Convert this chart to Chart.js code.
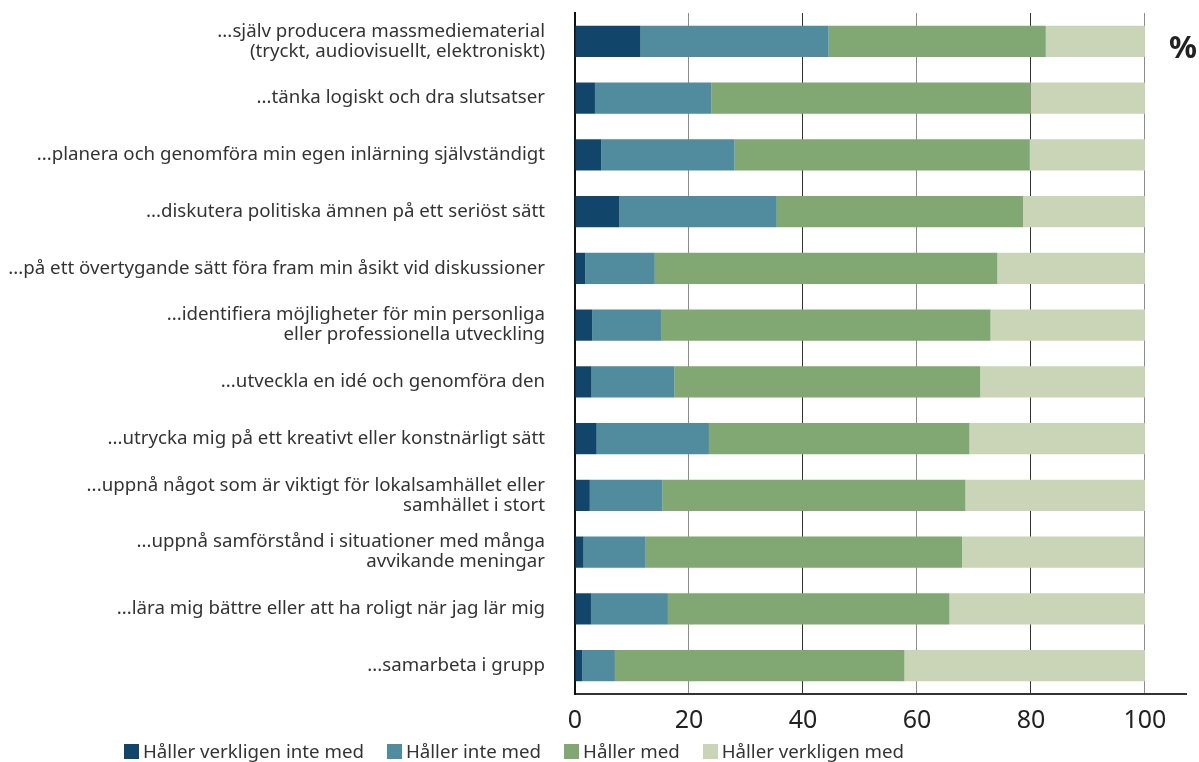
<!DOCTYPE html>
<html>
<head>
<meta charset="utf-8">
<script src="https://cdn.jsdelivr.net/npm/chart.js@4/dist/chart.umd.min.js"></script>
<style>
  body { margin: 0; background: #fff; font-family: "Noto Sans", sans-serif; }
  #wrap { position: relative; width: 1199px; height: 762px; }
  #pct { position: absolute; left: 1169px; top: 26px; font-size: 31px; font-weight: bold; color: #222; line-height: 40px; }
  #legend { position: absolute; left: 124px; top: 739px; display: flex; font-size: 18.7px; color: #333; line-height: 24px; }
  #legend .item { display: flex; align-items: center; margin-right: 23px; }
  #legend .box { width: 15px; height: 15px; margin-right: 4px; }
</style>
</head>
<body>
<div id="wrap">
  <canvas id="chart" width="1199" height="762"></canvas>
  <div id="pct">%</div>
  <div id="legend"></div>
</div>
<script>
const categories = [
    ['...själv producera massmediematerial', '(tryckt, audiovisuellt, elektroniskt)'],
    '...tänka logiskt och dra slutsatser',
    '...planera och genomföra min egen inlärning självständigt',
    '...diskutera politiska ämnen på ett seriöst sätt',
    '...på ett övertygande sätt föra fram min åsikt vid diskussioner',
    ['...identifiera möjligheter för min personliga', 'eller professionella utveckling'],
    '...utveckla en idé och genomföra den',
    '...utrycka mig på ett kreativt eller konstnärligt sätt',
    ['...uppnå något som är viktigt för lokalsamhället eller', 'samhället i stort'],
    ['...uppnå samförstånd i situationer med många', 'avvikande meningar'],
    '...lära mig bättre eller att ha roligt när jag lär mig',
    '...samarbeta i grupp'
];

const seriesNames = ['Håller verkligen inte med', 'Håller inte med', 'Håller med', 'Håller verkligen med'];
const seriesColors = ['#11466a', '#508b9e', '#81a773', '#c9d5b6'];

const strongDisagree = [11.5, 3.5, 4.6, 7.8, 1.8, 3.0, 2.9, 3.8, 2.6, 1.5, 2.8, 1.3];
const disagree       = [33.0, 20.4, 23.4, 27.6, 12.2, 12.1, 14.5, 19.7, 12.7, 10.9, 13.5, 5.7];
const agree          = [38.1, 56.0, 51.8, 43.2, 60.1, 57.8, 53.7, 45.7, 53.2, 55.5, 49.4, 50.8];
const strongAgree    = [17.4, 20.1, 20.2, 21.4, 25.9, 27.1, 28.9, 30.8, 31.5, 32.0, 34.3, 42.2];

const xTicks = [0, 20, 40, 60, 80, 100];

const allSeries = [strongDisagree, disagree, agree, strongAgree];

// html legend, placed like the original
const legendEl = document.getElementById('legend');
seriesNames.forEach((name, i) => {
    const item = document.createElement('div');
    item.className = 'item';
    item.innerHTML = `<span class="box" style="background:${seriesColors[i]}"></span><span>${name}</span>`;
    legendEl.appendChild(item);
});

const ctx = document.getElementById('chart').getContext('2d');
const chart = new Chart(ctx, {
    type: 'bar',
    data: {
        labels: categories,
        datasets: allSeries.map((vals, i) => ({
            label: seriesNames[i],
            data: vals,
            backgroundColor: seriesColors[i],
            borderWidth: 0,
            barPercentage: 0.55,
            categoryPercentage: 1
        }))
    },
    options: {
        indexAxis: 'y',
        responsive: false,
        animation: false,
        layout: { padding: { top: 13, right: 13, left: 0, bottom: 0 } },
        plugins: {
            legend: { display: false },
            tooltip: { enabled: false }
        },
        scales: {
            x: {
                stacked: true,
                min: 0,
                max: 107.2,
                afterBuildTicks: scale => { scale.ticks = xTicks.map(v => ({ value: v })); },
                afterFit: scale => {
                    scale.height = 68;
                    scale.paddingLeft = 0;
                    scale.paddingRight = 0;
                },
                ticks: {
                    padding: 12,
                    color: '#222',
                    font: { family: 'Noto Sans', size: 25 }
                },
                grid: {
                    drawTicks: false,
                    lineWidth: 1,
                    color: c => (c.tick && c.tick.value % 40 === 0) ? '#333' : '#8c8c8c'
                },
                border: { display: true, color: '#333', width: 2 }
            },
            y: {
                stacked: true,
                afterFit: scale => {
                    scale.width = 575;
                    scale.paddingTop = 0;
                    scale.paddingBottom = 0;
                },
                ticks: {
                    padding: 30,
                    color: '#333',
                    font: { family: 'Noto Sans', size: 18.7, lineHeight: '20px' }
                },
                grid: { display: false, drawTicks: false },
                border: { display: true, color: '#111', width: 2 }
            }
        }
    }
});
</script>
</body>
</html>
